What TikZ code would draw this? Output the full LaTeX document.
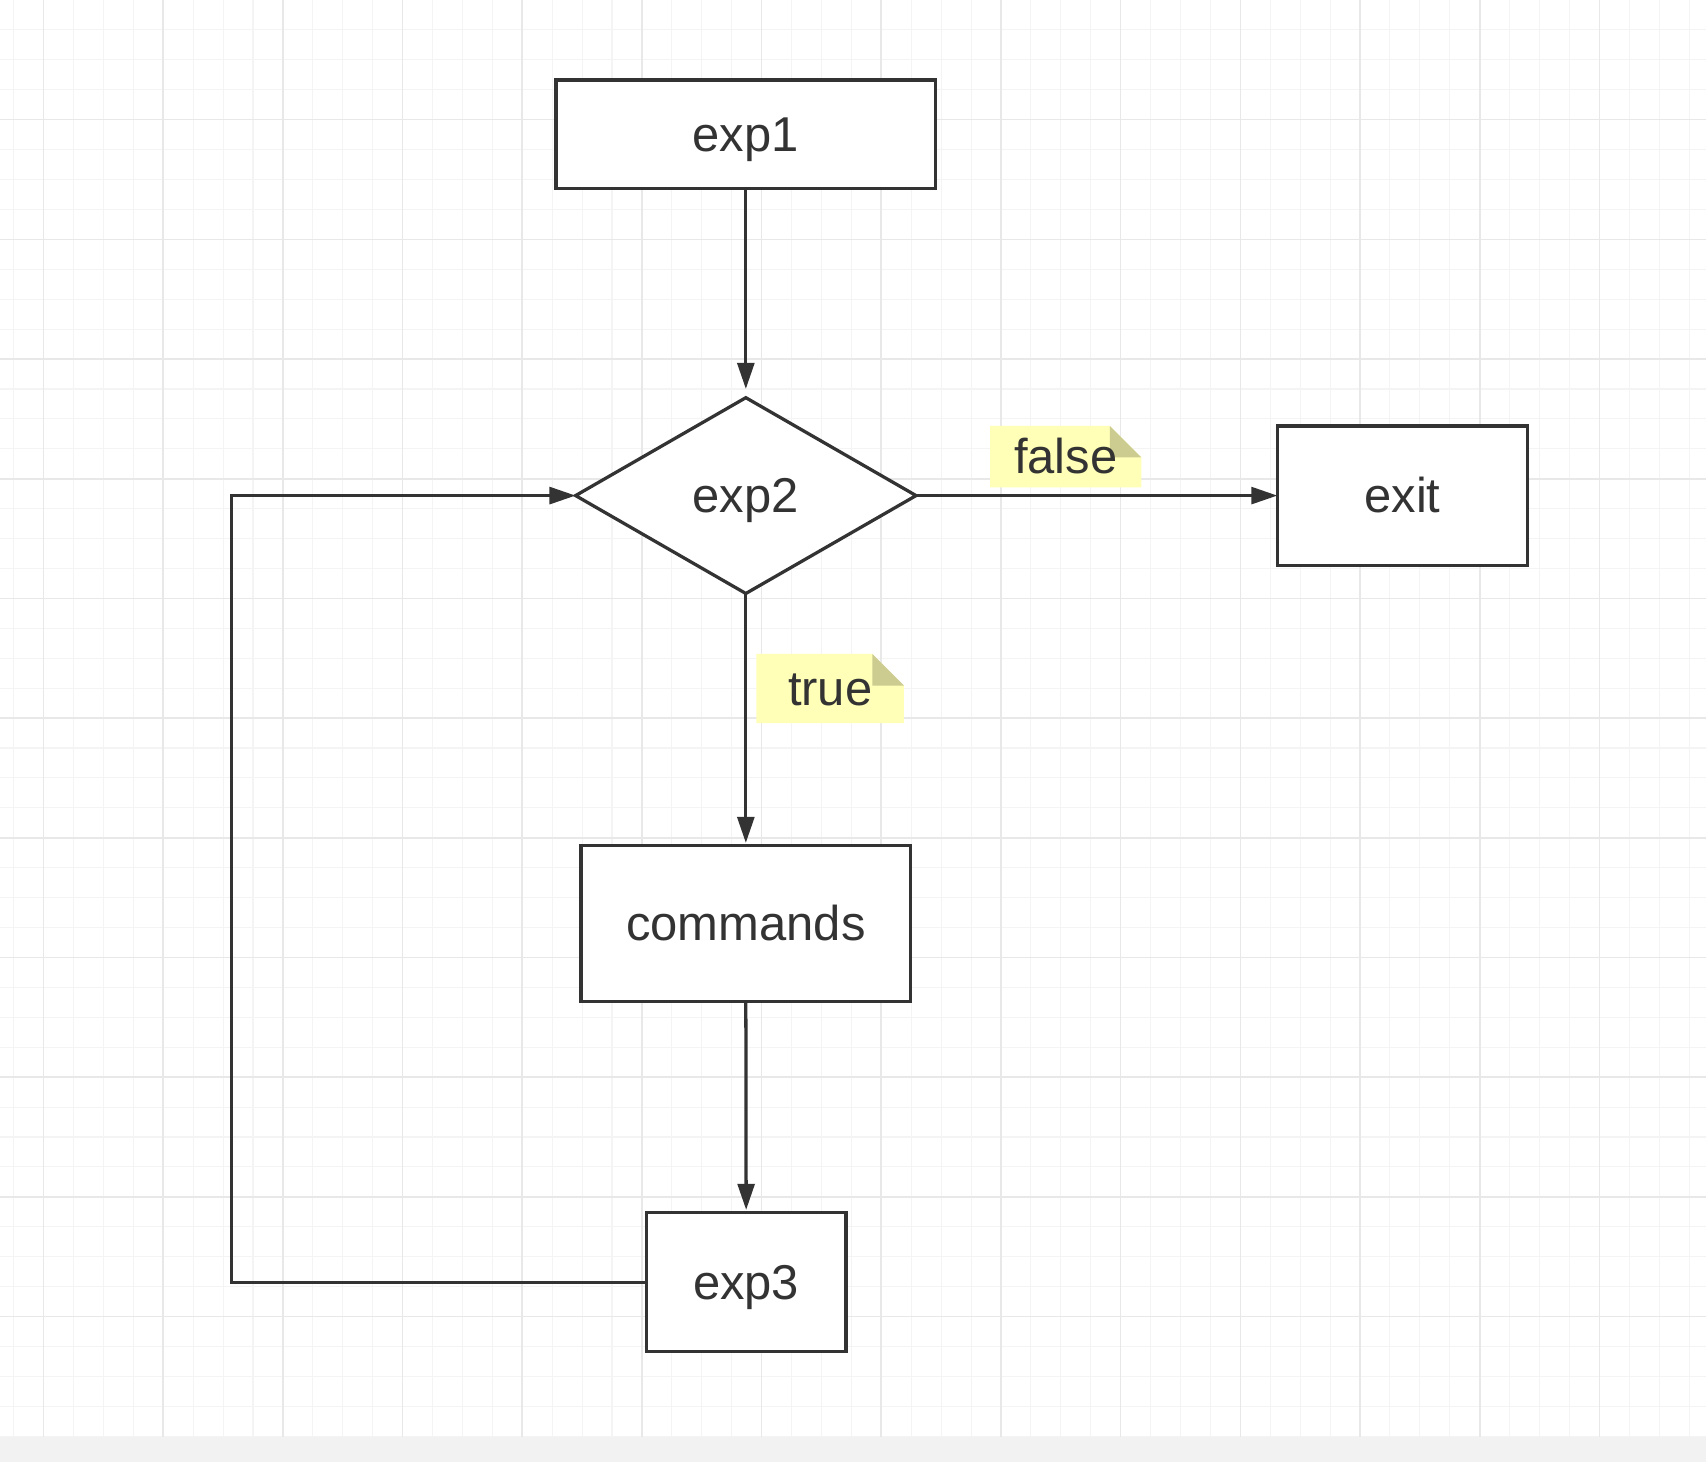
\documentclass[tikz,border=0pt]{standalone}
\usepackage{fontspec}
\setmainfont{Liberation Sans}
\usetikzlibrary{arrows.meta,shapes.geometric,backgrounds}

\definecolor{linecol}{HTML}{333333}
\definecolor{gridminor}{HTML}{F4F4F4}
\definecolor{gridmajor}{HTML}{E8E8E8}
\definecolor{notefill}{HTML}{FFFFB8}
\definecolor{notefold}{HTML}{CCCC90}
\definecolor{pagebar}{HTML}{F2F2F2}

\tikzset{
  box/.style={draw=linecol, line width=0.06cm, fill=white, text=linecol,
    font=\fontsize{25.6}{30}\selectfont, inner sep=0pt, outer sep=0pt,
    text height=0.675cm, text depth=0.054cm},
  decision/.style={box, diamond, minimum width=6.26cm, minimum height=3.6cm},
  flow/.style={draw=linecol, line width=0.06cm, -{Triangle[length=0.48cm,width=0.31cm]}},
  note/.style={text=linecol, font=\fontsize{25.6}{30}\selectfont, inner sep=0pt, outer sep=0pt,
    text height=0.675cm, text depth=0.054cm}
}

% yellow paper behind a label, with its corner folded
\newcommand{\notepaper}[1]{%
  \fill[notefill] (#1.north west) -- ([xshift=-0.58cm]#1.north east)
    -- ([yshift=-0.58cm]#1.north east) -- (#1.south east) -- (#1.south west) -- cycle;
  \fill[notefold] ([xshift=-0.58cm]#1.north east) -- ([xshift=-0.58cm,yshift=-0.58cm]#1.north east)
    -- ([yshift=-0.58cm]#1.north east) -- cycle;}

\begin{document}
\begin{tikzpicture}[x=0.02cm,y=-0.02cm]
\useasboundingbox (0,0) rectangle (1568,1344);

\begin{scope}[on background layer]
\fill[white] (0,0) rectangle (1568,1321);
\foreach \gx in {0,...,56}
  \draw[gridminor, line width=0.02cm] ({12.5+27.5*\gx},0) -- ({12.5+27.5*\gx},1321);
\foreach \gy in {1,...,48}
  \draw[gridminor, line width=0.02cm] (0,{27.5*\gy}) -- (1568,{27.5*\gy});
\foreach \gx in {0,...,13}
  \draw[gridmajor, line width=0.03cm] ({40+110*\gx},0) -- ({40+110*\gx},1321);
\foreach \gy in {1,...,11}
  \draw[gridmajor, line width=0.03cm] (0,{110*\gy}) -- (1568,{110*\gy});
\fill[pagebar] (0,1321) rectangle (1568,1344);
\end{scope}

\node[box, minimum width=6.98cm, minimum height=2.0cm] (exp1) at (685.5,123.6) {exp1};
\node[decision] (exp2) at (685.5,455.5) {exp2};
\node[box, minimum width=4.6cm, minimum height=2.56cm] (exit) at (1289,455.5) {exit};
\node[box, minimum width=6.06cm, minimum height=2.87cm] (commands) at (685.5,849) {commands};
\node[box, minimum width=3.67cm, minimum height=2.56cm] (exp3) at (685.8,1178.5) {exp3};

\node[note, minimum width=2.78cm, minimum height=1.13cm] (lblfalse) at (979.5,419.7) {false};
\node[note, minimum width=2.71cm, minimum height=1.27cm] (lbltrue) at (763,632.8) {true};

\begin{scope}[on background layer]
\notepaper{lblfalse}
\notepaper{lbltrue}
\end{scope}

\draw[flow, shorten >=0.16cm] (exp1.south) -- (exp2.north);
\draw[flow] (exp2.east) -- (exit.west);
\draw[flow, shorten >=0.05cm] (exp2.south) -- (commands.north);
\draw[flow, shorten >=0.05cm] (commands.south) -- (exp3.north);
\draw[flow] (exp3.west) -- ++(-381,0) |- (exp2.west);

\end{tikzpicture}
\end{document}
